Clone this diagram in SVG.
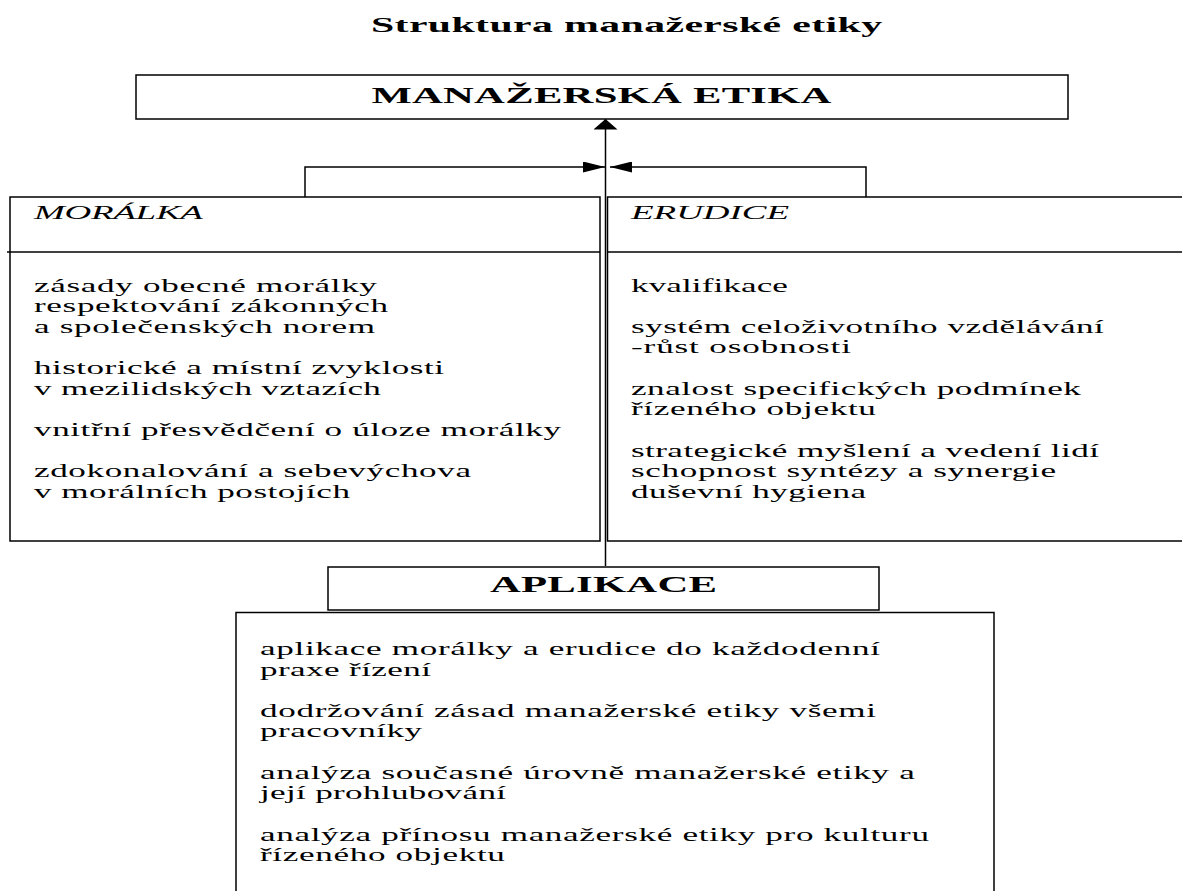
<svg xmlns="http://www.w3.org/2000/svg" width="1182" height="891" viewBox="0 0 1182 891">
<style>
  .box { fill: none; stroke: #000; stroke-width: 1.5; }
  .ln { fill: none; stroke: #000; stroke-width: 1.5; }
  .t { font-family: "Liberation Serif", "Times New Roman", serif; fill: #000; }
  .body { font-size: 18.5px; }
  .hd { font-size: 19.5px; font-style: italic; }
  .big { font-size: 22.5px; font-weight: bold; }
</style>
<defs>
  <marker id="ah" markerWidth="22" markerHeight="11" refX="22" refY="5.5" orient="auto" markerUnits="userSpaceOnUse">
    <path d="M0,0 L22,5.5 L0,11 z" fill="#000"/>
  </marker>
  <marker id="au" markerWidth="11" markerHeight="24" refX="10.5" refY="12" orient="auto" markerUnits="userSpaceOnUse">
    <path d="M0,0 L10.5,12 L0,24 z" fill="#000"/>
  </marker>
</defs>
<rect width="1182" height="891" fill="#fff"/>

<g id="title" transform="translate(371 0) scale(1.9 1)">
  <text class="t big" x="0" y="32.5" textLength="269" style="font-size:22px">Struktura manažerské etiky</text>
</g>

<g id="connectors">
  <line class="ln" x1="605.5" y1="566" x2="605.5" y2="119" marker-end="url(#au)"/>
  <polyline class="ln" points="305,197 305,167 605,167" marker-end="url(#ah)"/>
  <polyline class="ln" points="866,197 866,167 610,167" marker-end="url(#ah)"/>
</g>

<g id="manazerska-etika">
  <rect class="box" x="136" y="75" width="932" height="44"/>
  <g transform="translate(371.5 0) scale(1.9 1)">
    <text class="t big" x="0" y="103.3" textLength="242.1">MANAŽERSKÁ ETIKA</text>
  </g>
</g>

<g id="moralka">
  <rect class="box" x="10" y="197" width="590" height="344"/>
  <line class="ln" x1="7" y1="252" x2="600" y2="252"/>
  <g transform="translate(34 0) scale(1.9 1)">
    <text class="t hd" x="0" y="219.3" textLength="88.9">MORÁLKA</text>
    <text class="t body" x="0" y="291.7" textLength="180.5">zásady obecné morálky</text>
    <text class="t body" x="0" y="312.3" textLength="186.3">respektování zákonných</text>
    <text class="t body" x="0" y="332.9" textLength="179.5">a společenských norem</text>
    <text class="t body" x="0" y="374.2" textLength="215.8">historické a místní zvyklosti</text>
    <text class="t body" x="0" y="394.8" textLength="182.6">v mezilidských vztazích</text>
    <text class="t body" x="0" y="436.1" textLength="277.4">vnitřní přesvědčení o úloze morálky</text>
    <text class="t body" x="0" y="477.4" textLength="230">zdokonalování a sebevýchova</text>
    <text class="t body" x="0" y="498" textLength="166.3">v morálních postojích</text>
  </g>
</g>

<g id="erudice">
  <rect class="box" x="607.5" y="197" width="600" height="344"/>
  <line class="ln" x1="607.5" y1="252" x2="1182" y2="252"/>
  <g transform="translate(631 0) scale(1.9 1)">
    <text class="t hd" x="0" y="219.3" textLength="83.2">ERUDICE</text>
    <text class="t body" x="0" y="291.7" textLength="82.6">kvalifikace</text>
    <text class="t body" x="0" y="332.9" textLength="248.9">systém celoživotního vzdělávání</text>
    <text class="t body" x="0" y="353.5" textLength="115.8">-růst osobnosti</text>
    <text class="t body" x="0" y="394.8" textLength="236.8">znalost specifických podmínek</text>
    <text class="t body" x="0" y="415.4" textLength="128.9">řízeného objektu</text>
    <text class="t body" x="0" y="456.7" textLength="246.3">strategické myšlení a vedení lidí</text>
    <text class="t body" x="0" y="477.3" textLength="223.7">schopnost syntézy a synergie</text>
    <text class="t body" x="0" y="498" textLength="123.7">duševní hygiena</text>
  </g>
</g>

<g id="aplikace">
  <rect class="box" x="328" y="567" width="551" height="43"/>
  <g transform="translate(490 0) scale(1.9 1)">
    <text class="t big" x="0" y="592.3" textLength="119.5">APLIKACE</text>
  </g>
</g>

<g id="aplikace-obsah">
  <rect class="box" x="236" y="612.5" width="758" height="300"/>
  <g transform="translate(260 0) scale(1.9 1)">
    <text class="t body" x="0" y="655" textLength="326.3">aplikace morálky a erudice do každodenní</text>
    <text class="t body" x="0" y="675.6" textLength="90">praxe řízení</text>
    <text class="t body" x="0" y="716.9" textLength="324.2">dodržování zásad manažerské etiky všemi</text>
    <text class="t body" x="0" y="737.5" textLength="85.3">pracovníky</text>
    <text class="t body" x="0" y="778.8" textLength="344.7">analýza současné úrovně manažerské etiky a</text>
    <text class="t body" x="0" y="799.4" textLength="129.5">její prohlubování</text>
    <text class="t body" x="0" y="840.7" textLength="352.1">analýza přínosu manažerské etiky pro kulturu</text>
    <text class="t body" x="0" y="861.3" textLength="128.9">řízeného objektu</text>
  </g>
</g>
</svg>
